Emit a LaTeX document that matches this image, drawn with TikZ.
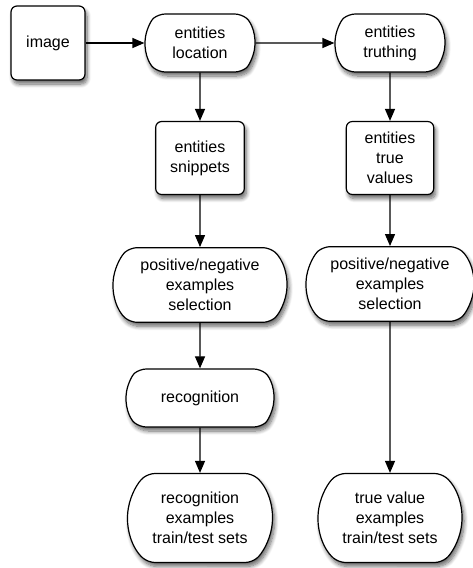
\documentclass[tikz,border=0pt]{standalone}
\usepackage{fontspec}
\setmainfont{Liberation Sans}
\usetikzlibrary{shapes.misc,arrows.meta,shadows.blur}

\tikzset{every picture/.style={line width=0.9pt}}
\tikzset{
  boxshadow/.style={blur shadow={shadow xshift=1.5pt,shadow yshift=-3pt,shadow blur radius=3pt,shadow blur steps=8,shadow opacity=60}},
  procbox/.style={draw,fill=white,rounded rectangle,rounded rectangle arc length=100,rounded corners=5pt,inner sep=0pt,align=center,font=\fontsize{12}{15}\selectfont,boxshadow},
  databox/.style={draw,fill=white,rectangle,rounded corners=4.5pt,inner sep=0pt,align=center,font=\fontsize{12}{15}\selectfont,boxshadow},
  flowarrow/.style={-{Triangle[length=9pt,width=7.5pt]}}
}

\begin{document}
\begin{tikzpicture}[x=0.75pt,y=0.75pt,yscale=-1,xscale=1]
\useasboundingbox (0,0) rectangle (473,568); %set diagram to 473 x 568

%Shape: Rectangle [image]
\node[databox,minimum width=55.5pt,minimum height=55.5pt] (image) at (48,43) {image};
%Shape: Rounded Rect [location]
\node[procbox,minimum width=82.5pt,minimum height=43.5pt] (loc) at (200,43) {entities\\location};
%Shape: Rounded Rect [truthing]
\node[procbox,minimum width=82.5pt,minimum height=43.5pt] (truth) at (390,43) {entities\\truthing};
%Shape: Rectangle [snippets]
\node[databox,minimum width=66.5pt,minimum height=54.75pt] (snip) at (200,158) {entities\\snippets};
%Shape: Rectangle [true values]
\node[databox,minimum width=65.5pt,minimum height=54.75pt] (tval) at (390,158) {entities\\true\\values};
%Shape: Rounded Rect [selection left]
\node[procbox,minimum width=130.5pt,minimum height=56pt] (selL) at (200,285) {positive/negative\\examples\\selection};
%Shape: Rounded Rect [selection right]
\node[procbox,minimum width=126pt,minimum height=56pt] (selR) at (390,284) {positive/negative\\examples\\selection};
%Shape: Rounded Rect [recognition]
\node[procbox,minimum width=111pt,minimum height=43.5pt] (recog) at (200,398) {recognition};
%Shape: Rounded Rect [recognition sets]
\node[procbox,minimum width=108.75pt,minimum height=66.75pt] (recset) at (200,518) {recognition\\examples\\train/test sets};
%Shape: Rounded Rect [true value sets]
\node[procbox,minimum width=108pt,minimum height=66.75pt] (tvset) at (390,518) {true value\\examples\\train/test sets};

%Straight Lines
\draw[flowarrow] (image) -- (loc);
\draw[flowarrow] (loc) -- (truth);
\draw[flowarrow] (loc) -- (snip);
\draw[flowarrow] (truth) -- (tval);
\draw[flowarrow] (snip) -- (selL);
\draw[flowarrow] (tval) -- (selR);
\draw[flowarrow] (selL) -- (recog);
\draw[flowarrow] (recog) -- (recset);
\draw[flowarrow] (selR) -- (tvset);

\end{tikzpicture}
\end{document}
